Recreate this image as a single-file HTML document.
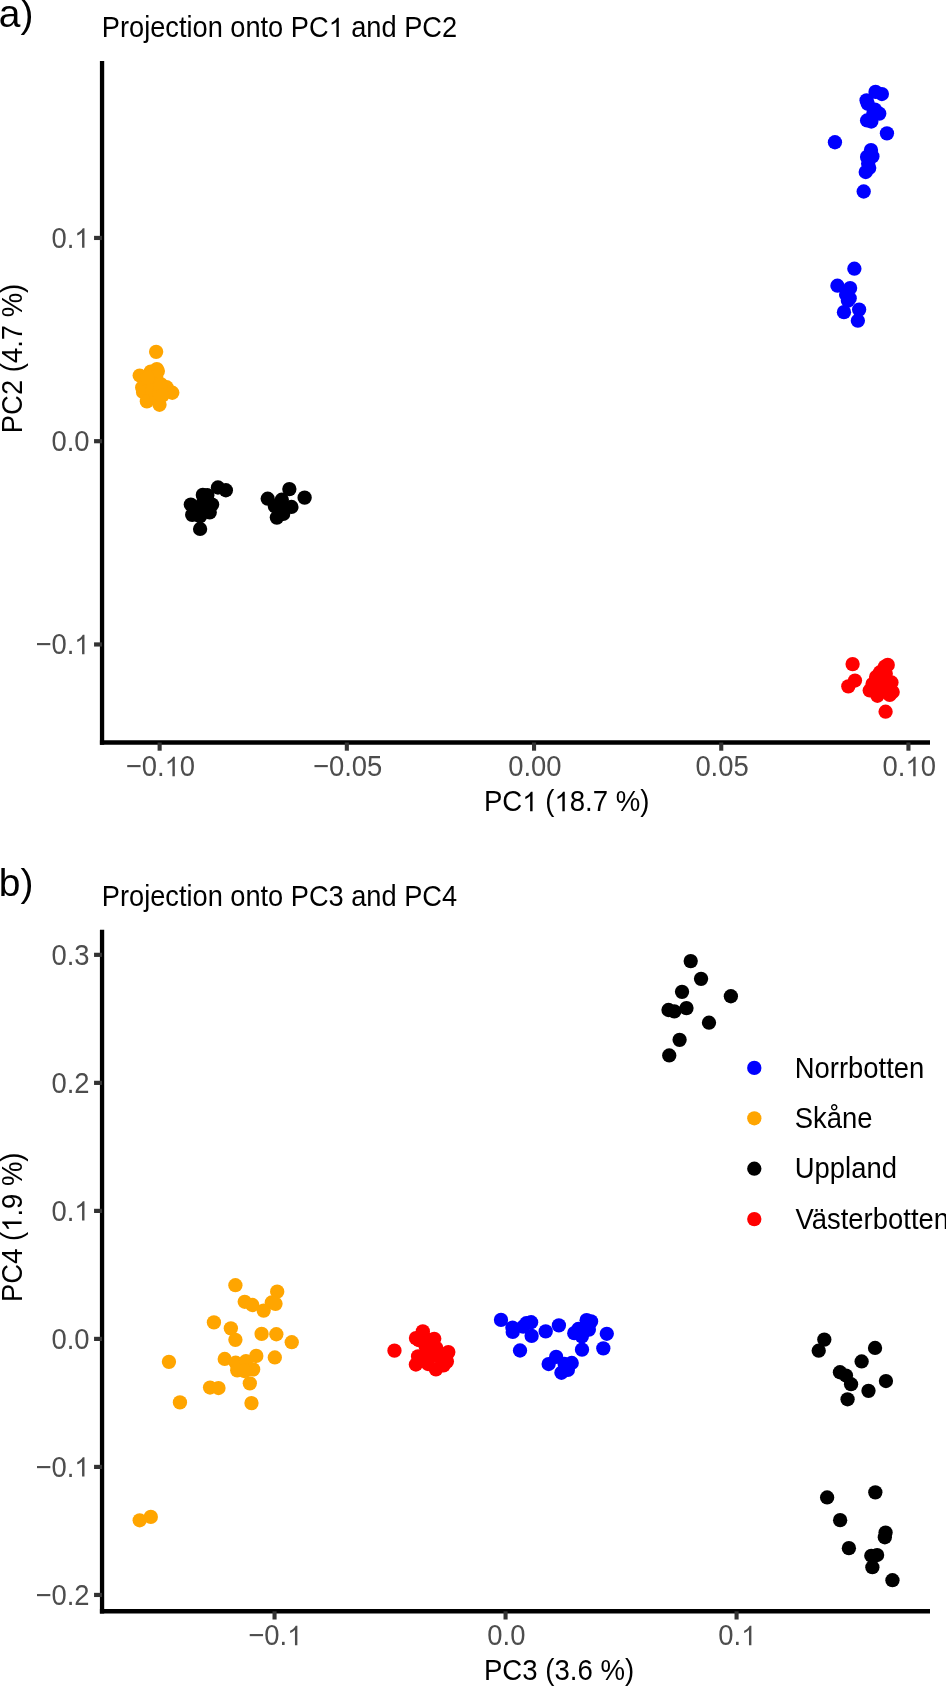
<!DOCTYPE html>
<html><head><meta charset="utf-8"><style>
html,body{margin:0;padding:0;background:#fff;}
svg{display:block;will-change:transform;}
text{font-family:"Liberation Sans",sans-serif;}
</style></head><body>
<svg width="946" height="1686" viewBox="0 0 946 1686">
<rect width="946" height="1686" fill="#fff"/>
<line x1="102.05" y1="61.10" x2="102.05" y2="744.70" stroke="#000" stroke-width="4.3" stroke-linecap="butt"/>
<line x1="99.90" y1="742.50" x2="930.00" y2="742.50" stroke="#000" stroke-width="4.4" stroke-linecap="butt"/>
<line x1="94.05" y1="237.94" x2="102.05" y2="237.94" stroke="#333333" stroke-width="4.2" stroke-linecap="butt"/>
<g transform="translate(89.50,247.64)"><text transform="translate(-38.090,0) scale(0.9288,1)" fill="#4D4D4D" font-size="29.5">0. </text><path transform="translate(-15.239,0) scale(0.013379,-0.013184)" fill="#4D4D4D" d="M763 0L583 0L583 1147C540 1106 483 1064 413 1023C343 982 280 951 223 930L223 1104C322 1150 409 1207 483 1273C557 1339 609 1405 639 1466L763 1466Z"/></g>
<line x1="94.05" y1="441.20" x2="102.05" y2="441.20" stroke="#333333" stroke-width="4.2" stroke-linecap="butt"/>
<text transform="translate(89.50,450.90) scale(0.9288,1)" text-anchor="end" fill="#4D4D4D" font-size="29.5">0.0</text>
<line x1="94.05" y1="644.46" x2="102.05" y2="644.46" stroke="#333333" stroke-width="4.2" stroke-linecap="butt"/>
<g transform="translate(89.50,654.16)"><text transform="translate(-54.091,0) scale(0.9288,1)" fill="#4D4D4D" font-size="29.5">−0. </text><path transform="translate(-15.239,0) scale(0.013379,-0.013184)" fill="#4D4D4D" d="M763 0L583 0L583 1147C540 1106 483 1064 413 1023C343 982 280 951 223 930L223 1104C322 1150 409 1207 483 1273C557 1339 609 1405 639 1466L763 1466Z"/></g>
<line x1="159.64" y1="742.50" x2="159.64" y2="750.70" stroke="#333333" stroke-width="4.1" stroke-linecap="butt"/>
<g transform="translate(160.44,776.20)"><text transform="translate(-34.665,0) scale(0.9288,1)" fill="#4D4D4D" font-size="29.5">−0. 0</text><path transform="translate(4.188,0) scale(0.013379,-0.013184)" fill="#4D4D4D" d="M763 0L583 0L583 1147C540 1106 483 1064 413 1023C343 982 280 951 223 930L223 1104C322 1150 409 1207 483 1273C557 1339 609 1405 639 1466L763 1466Z"/></g>
<line x1="346.84" y1="742.50" x2="346.84" y2="750.70" stroke="#333333" stroke-width="4.1" stroke-linecap="butt"/>
<text transform="translate(347.64,776.20) scale(0.9288,1)" text-anchor="middle" fill="#4D4D4D" font-size="29.5">−0.05</text>
<line x1="534.04" y1="742.50" x2="534.04" y2="750.70" stroke="#333333" stroke-width="4.1" stroke-linecap="butt"/>
<text transform="translate(534.84,776.20) scale(0.9288,1)" text-anchor="middle" fill="#4D4D4D" font-size="29.5">0.00</text>
<line x1="721.24" y1="742.50" x2="721.24" y2="750.70" stroke="#333333" stroke-width="4.1" stroke-linecap="butt"/>
<text transform="translate(722.04,776.20) scale(0.9288,1)" text-anchor="middle" fill="#4D4D4D" font-size="29.5">0.05</text>
<line x1="908.44" y1="742.50" x2="908.44" y2="750.70" stroke="#333333" stroke-width="4.1" stroke-linecap="butt"/>
<g transform="translate(909.24,776.20)"><text transform="translate(-26.664,0) scale(0.9288,1)" fill="#4D4D4D" font-size="29.5">0. 0</text><path transform="translate(-3.813,0) scale(0.013379,-0.013184)" fill="#4D4D4D" d="M763 0L583 0L583 1147C540 1106 483 1064 413 1023C343 982 280 951 223 930L223 1104C322 1150 409 1207 483 1273C557 1339 609 1405 639 1466L763 1466Z"/></g>
<g transform="translate(483.94,811.20)"><text transform="translate(0.000,0) scale(0.9356,1)" fill="#000" font-size="29.5">PC  ( 8.7 %)</text><path transform="translate(38.341,0) scale(0.013477,-0.013184)" fill="#000" d="M763 0L583 0L583 1147C540 1106 483 1064 413 1023C343 982 280 951 223 930L223 1104C322 1150 409 1207 483 1273C557 1339 609 1405 639 1466L763 1466Z"/><path transform="translate(70.550,0) scale(0.013477,-0.013184)" fill="#000" d="M763 0L583 0L583 1147C540 1106 483 1064 413 1023C343 982 280 951 223 930L223 1104C322 1150 409 1207 483 1273C557 1339 609 1405 639 1466L763 1466Z"/></g>
<text transform="translate(21.60,358.50) rotate(-90) scale(0.9498,1)" text-anchor="middle" fill="#000" font-size="28.9">PC2 (4.7 %)</text>
<g transform="translate(101.87,37.00)"><text transform="translate(0.000,0) scale(0.9220,1)" fill="#000" font-size="29.5">Projection onto PC  and PC2</text><path transform="translate(226.791,0) scale(0.013281,-0.013184)" fill="#000" d="M763 0L583 0L583 1147C540 1106 483 1064 413 1023C343 982 280 951 223 930L223 1104C322 1150 409 1207 483 1273C557 1339 609 1405 639 1466L763 1466Z"/></g>
<text transform="translate(-1.30,27.30) scale(0.9873,1)" text-anchor="start" fill="#000" font-size="39.5">a)</text>
<line x1="102.05" y1="929.80" x2="102.05" y2="1613.50" stroke="#000" stroke-width="4.3" stroke-linecap="butt"/>
<line x1="99.90" y1="1611.30" x2="930.00" y2="1611.30" stroke="#000" stroke-width="4.4" stroke-linecap="butt"/>
<line x1="94.05" y1="954.84" x2="102.05" y2="954.84" stroke="#333333" stroke-width="4.2" stroke-linecap="butt"/>
<text transform="translate(89.50,964.54) scale(0.9288,1)" text-anchor="end" fill="#4D4D4D" font-size="29.5">0.3</text>
<line x1="94.05" y1="1082.86" x2="102.05" y2="1082.86" stroke="#333333" stroke-width="4.2" stroke-linecap="butt"/>
<text transform="translate(89.50,1092.56) scale(0.9288,1)" text-anchor="end" fill="#4D4D4D" font-size="29.5">0.2</text>
<line x1="94.05" y1="1210.88" x2="102.05" y2="1210.88" stroke="#333333" stroke-width="4.2" stroke-linecap="butt"/>
<g transform="translate(89.50,1220.58)"><text transform="translate(-38.090,0) scale(0.9288,1)" fill="#4D4D4D" font-size="29.5">0. </text><path transform="translate(-15.239,0) scale(0.013379,-0.013184)" fill="#4D4D4D" d="M763 0L583 0L583 1147C540 1106 483 1064 413 1023C343 982 280 951 223 930L223 1104C322 1150 409 1207 483 1273C557 1339 609 1405 639 1466L763 1466Z"/></g>
<line x1="94.05" y1="1338.90" x2="102.05" y2="1338.90" stroke="#333333" stroke-width="4.2" stroke-linecap="butt"/>
<text transform="translate(89.50,1348.60) scale(0.9288,1)" text-anchor="end" fill="#4D4D4D" font-size="29.5">0.0</text>
<line x1="94.05" y1="1466.92" x2="102.05" y2="1466.92" stroke="#333333" stroke-width="4.2" stroke-linecap="butt"/>
<g transform="translate(89.50,1476.62)"><text transform="translate(-54.091,0) scale(0.9288,1)" fill="#4D4D4D" font-size="29.5">−0. </text><path transform="translate(-15.239,0) scale(0.013379,-0.013184)" fill="#4D4D4D" d="M763 0L583 0L583 1147C540 1106 483 1064 413 1023C343 982 280 951 223 930L223 1104C322 1150 409 1207 483 1273C557 1339 609 1405 639 1466L763 1466Z"/></g>
<line x1="94.05" y1="1594.94" x2="102.05" y2="1594.94" stroke="#333333" stroke-width="4.2" stroke-linecap="butt"/>
<text transform="translate(89.50,1604.64) scale(0.9288,1)" text-anchor="end" fill="#4D4D4D" font-size="29.5">−0.2</text>
<line x1="274.55" y1="1611.30" x2="274.55" y2="1619.50" stroke="#333333" stroke-width="4.1" stroke-linecap="butt"/>
<g transform="translate(275.35,1645.20)"><text transform="translate(-27.045,0) scale(0.9288,1)" fill="#4D4D4D" font-size="29.5">−0. </text><path transform="translate(11.807,0) scale(0.013379,-0.013184)" fill="#4D4D4D" d="M763 0L583 0L583 1147C540 1106 483 1064 413 1023C343 982 280 951 223 930L223 1104C322 1150 409 1207 483 1273C557 1339 609 1405 639 1466L763 1466Z"/></g>
<line x1="505.56" y1="1611.30" x2="505.56" y2="1619.50" stroke="#333333" stroke-width="4.1" stroke-linecap="butt"/>
<text transform="translate(506.36,1645.20) scale(0.9288,1)" text-anchor="middle" fill="#4D4D4D" font-size="29.5">0.0</text>
<line x1="736.57" y1="1611.30" x2="736.57" y2="1619.50" stroke="#333333" stroke-width="4.1" stroke-linecap="butt"/>
<g transform="translate(737.37,1645.20)"><text transform="translate(-19.045,0) scale(0.9288,1)" fill="#4D4D4D" font-size="29.5">0. </text><path transform="translate(3.806,0) scale(0.013379,-0.013184)" fill="#4D4D4D" d="M763 0L583 0L583 1147C540 1106 483 1064 413 1023C343 982 280 951 223 930L223 1104C322 1150 409 1207 483 1273C557 1339 609 1405 639 1466L763 1466Z"/></g>
<text transform="translate(483.94,1680.30) scale(0.9356,1)" text-anchor="start" fill="#000" font-size="29.5">PC3 (3.6 %)</text>
<g transform="translate(21.60,1227.20) rotate(-90)"><text transform="translate(-74.750,0) scale(0.9498,1)" fill="#000" font-size="28.9">PC4 ( .9 %)</text><path transform="translate(-4.584,0) scale(0.013403,-0.013184)" fill="#000" d="M763 0L583 0L583 1147C540 1106 483 1064 413 1023C343 982 280 951 223 930L223 1104C322 1150 409 1207 483 1273C557 1339 609 1405 639 1466L763 1466Z"/></g>
<text transform="translate(101.87,906.20) scale(0.9220,1)" text-anchor="start" fill="#000" font-size="29.5">Projection onto PC3 and PC4</text>
<text transform="translate(-1.30,896.30) scale(0.9873,1)" text-anchor="start" fill="#000" font-size="39.5">b)</text>
<circle cx="875.54" cy="91.91" r="7.15" fill="#0000FF"/>
<circle cx="881.88" cy="94.03" r="7.15" fill="#0000FF"/>
<circle cx="866.55" cy="100.37" r="7.15" fill="#0000FF"/>
<circle cx="867.72" cy="103.75" r="7.15" fill="#0000FF"/>
<circle cx="874.90" cy="109.57" r="7.15" fill="#0000FF"/>
<circle cx="879.24" cy="113.58" r="7.15" fill="#0000FF"/>
<circle cx="873.42" cy="113.05" r="7.15" fill="#0000FF"/>
<circle cx="867.08" cy="120.45" r="7.15" fill="#0000FF"/>
<circle cx="871.31" cy="121.51" r="7.15" fill="#0000FF"/>
<circle cx="886.96" cy="133.35" r="7.15" fill="#0000FF"/>
<circle cx="834.95" cy="142.23" r="7.15" fill="#0000FF"/>
<circle cx="870.99" cy="150.05" r="7.15" fill="#0000FF"/>
<circle cx="867.08" cy="156.92" r="7.15" fill="#0000FF"/>
<circle cx="872.37" cy="156.40" r="7.15" fill="#0000FF"/>
<circle cx="868.14" cy="163.79" r="7.15" fill="#0000FF"/>
<circle cx="869.20" cy="168.02" r="7.15" fill="#0000FF"/>
<circle cx="865.71" cy="172.04" r="7.15" fill="#0000FF"/>
<circle cx="863.70" cy="191.49" r="7.15" fill="#0000FF"/>
<circle cx="854.37" cy="268.71" r="7.15" fill="#0000FF"/>
<circle cx="837.44" cy="285.70" r="7.15" fill="#0000FF"/>
<circle cx="850.12" cy="288.05" r="7.15" fill="#0000FF"/>
<circle cx="846.13" cy="294.71" r="7.15" fill="#0000FF"/>
<circle cx="849.68" cy="298.19" r="7.15" fill="#0000FF"/>
<circle cx="843.97" cy="312.14" r="7.15" fill="#0000FF"/>
<circle cx="859.12" cy="309.61" r="7.15" fill="#0000FF"/>
<circle cx="857.86" cy="320.70" r="7.15" fill="#0000FF"/>
<circle cx="847.90" cy="300.73" r="7.15" fill="#0000FF"/>
<circle cx="852.61" cy="664.12" r="7.15" fill="#FF0000"/>
<circle cx="854.98" cy="680.53" r="7.15" fill="#FF0000"/>
<circle cx="848.32" cy="686.32" r="7.15" fill="#FF0000"/>
<circle cx="885.59" cy="711.70" r="7.15" fill="#FF0000"/>
<circle cx="887.74" cy="664.91" r="7.15" fill="#FF0000"/>
<circle cx="884.96" cy="666.65" r="7.15" fill="#FF0000"/>
<circle cx="880.04" cy="672.20" r="7.15" fill="#FF0000"/>
<circle cx="876.08" cy="676.96" r="7.15" fill="#FF0000"/>
<circle cx="872.51" cy="684.10" r="7.15" fill="#FF0000"/>
<circle cx="869.73" cy="690.44" r="7.15" fill="#FF0000"/>
<circle cx="877.43" cy="695.76" r="7.15" fill="#FF0000"/>
<circle cx="889.72" cy="694.96" r="7.15" fill="#FF0000"/>
<circle cx="892.65" cy="692.03" r="7.15" fill="#FF0000"/>
<circle cx="891.46" cy="682.51" r="7.15" fill="#FF0000"/>
<circle cx="885.75" cy="673.79" r="7.15" fill="#FF0000"/>
<circle cx="882.58" cy="685.69" r="7.15" fill="#FF0000"/>
<circle cx="879.41" cy="685.69" r="7.15" fill="#FF0000"/>
<circle cx="884.17" cy="680.13" r="7.15" fill="#FF0000"/>
<circle cx="886.55" cy="688.07" r="7.15" fill="#FF0000"/>
<circle cx="156.13" cy="351.84" r="7.15" fill="#FFA500"/>
<circle cx="156.82" cy="369.16" r="7.15" fill="#FFA500"/>
<circle cx="150.77" cy="371.56" r="7.15" fill="#FFA500"/>
<circle cx="139.71" cy="375.55" r="7.15" fill="#FFA500"/>
<circle cx="157.85" cy="371.08" r="7.15" fill="#FFA500"/>
<circle cx="156.13" cy="376.58" r="7.15" fill="#FFA500"/>
<circle cx="142.18" cy="387.58" r="7.15" fill="#FFA500"/>
<circle cx="143.01" cy="392.04" r="7.15" fill="#FFA500"/>
<circle cx="166.58" cy="387.23" r="7.15" fill="#FFA500"/>
<circle cx="172.29" cy="392.73" r="7.15" fill="#FFA500"/>
<circle cx="146.86" cy="401.39" r="7.15" fill="#FFA500"/>
<circle cx="159.50" cy="404.76" r="7.15" fill="#FFA500"/>
<circle cx="151.12" cy="383.11" r="7.15" fill="#FFA500"/>
<circle cx="152.49" cy="389.98" r="7.15" fill="#FFA500"/>
<circle cx="155.93" cy="395.48" r="7.15" fill="#FFA500"/>
<circle cx="159.36" cy="393.42" r="7.15" fill="#FFA500"/>
<circle cx="147.68" cy="377.61" r="7.15" fill="#FFA500"/>
<circle cx="160.74" cy="384.14" r="7.15" fill="#FFA500"/>
<circle cx="162.46" cy="395.48" r="7.15" fill="#FFA500"/>
<circle cx="217.96" cy="487.51" r="7.15" fill="#000000"/>
<circle cx="225.86" cy="490.26" r="7.15" fill="#000000"/>
<circle cx="202.84" cy="494.93" r="7.15" fill="#000000"/>
<circle cx="207.30" cy="495.27" r="7.15" fill="#000000"/>
<circle cx="197.68" cy="508.68" r="7.15" fill="#000000"/>
<circle cx="190.81" cy="504.55" r="7.15" fill="#000000"/>
<circle cx="212.11" cy="504.55" r="7.15" fill="#000000"/>
<circle cx="192.18" cy="514.86" r="7.15" fill="#000000"/>
<circle cx="209.71" cy="512.46" r="7.15" fill="#000000"/>
<circle cx="200.09" cy="528.95" r="7.15" fill="#000000"/>
<circle cx="200.09" cy="516.24" r="7.15" fill="#000000"/>
<circle cx="202.49" cy="503.87" r="7.15" fill="#000000"/>
<circle cx="289.36" cy="489.09" r="7.15" fill="#000000"/>
<circle cx="304.62" cy="497.68" r="7.15" fill="#000000"/>
<circle cx="267.71" cy="498.71" r="7.15" fill="#000000"/>
<circle cx="281.80" cy="499.74" r="7.15" fill="#000000"/>
<circle cx="291.43" cy="506.96" r="7.15" fill="#000000"/>
<circle cx="274.93" cy="506.27" r="7.15" fill="#000000"/>
<circle cx="276.86" cy="517.61" r="7.15" fill="#000000"/>
<circle cx="283.18" cy="513.90" r="7.15" fill="#000000"/>
<circle cx="280.43" cy="505.93" r="7.15" fill="#000000"/>
<circle cx="690.70" cy="961.07" r="7.15" fill="#000000"/>
<circle cx="701.06" cy="978.83" r="7.15" fill="#000000"/>
<circle cx="682.03" cy="991.83" r="7.15" fill="#000000"/>
<circle cx="730.87" cy="996.27" r="7.15" fill="#000000"/>
<circle cx="668.50" cy="1010.01" r="7.15" fill="#000000"/>
<circle cx="674.31" cy="1011.38" r="7.15" fill="#000000"/>
<circle cx="686.47" cy="1008.11" r="7.15" fill="#000000"/>
<circle cx="708.99" cy="1022.70" r="7.15" fill="#000000"/>
<circle cx="679.60" cy="1039.82" r="7.15" fill="#000000"/>
<circle cx="669.24" cy="1055.47" r="7.15" fill="#000000"/>
<circle cx="824.31" cy="1339.59" r="7.15" fill="#000000"/>
<circle cx="818.71" cy="1350.69" r="7.15" fill="#000000"/>
<circle cx="875.05" cy="1347.94" r="7.15" fill="#000000"/>
<circle cx="861.63" cy="1361.47" r="7.15" fill="#000000"/>
<circle cx="839.96" cy="1372.25" r="7.15" fill="#000000"/>
<circle cx="845.98" cy="1375.53" r="7.15" fill="#000000"/>
<circle cx="851.06" cy="1384.20" r="7.15" fill="#000000"/>
<circle cx="885.94" cy="1381.03" r="7.15" fill="#000000"/>
<circle cx="868.50" cy="1390.86" r="7.15" fill="#000000"/>
<circle cx="847.57" cy="1399.31" r="7.15" fill="#000000"/>
<circle cx="827.12" cy="1497.44" r="7.15" fill="#000000"/>
<circle cx="875.33" cy="1492.37" r="7.15" fill="#000000"/>
<circle cx="840.13" cy="1520.17" r="7.15" fill="#000000"/>
<circle cx="885.58" cy="1532.54" r="7.15" fill="#000000"/>
<circle cx="884.84" cy="1537.29" r="7.15" fill="#000000"/>
<circle cx="848.90" cy="1548.18" r="7.15" fill="#000000"/>
<circle cx="871.31" cy="1555.79" r="7.15" fill="#000000"/>
<circle cx="877.12" cy="1555.05" r="7.15" fill="#000000"/>
<circle cx="872.37" cy="1567.21" r="7.15" fill="#000000"/>
<circle cx="892.45" cy="1580.21" r="7.15" fill="#000000"/>
<circle cx="235.41" cy="1285.22" r="7.15" fill="#FFA500"/>
<circle cx="277.19" cy="1291.65" r="7.15" fill="#FFA500"/>
<circle cx="244.71" cy="1301.80" r="7.15" fill="#FFA500"/>
<circle cx="252.33" cy="1305.01" r="7.15" fill="#FFA500"/>
<circle cx="263.66" cy="1310.59" r="7.15" fill="#FFA500"/>
<circle cx="271.78" cy="1302.47" r="7.15" fill="#FFA500"/>
<circle cx="275.50" cy="1303.83" r="7.15" fill="#FFA500"/>
<circle cx="213.93" cy="1322.43" r="7.15" fill="#FFA500"/>
<circle cx="230.85" cy="1328.35" r="7.15" fill="#FFA500"/>
<circle cx="235.41" cy="1339.85" r="7.15" fill="#FFA500"/>
<circle cx="261.63" cy="1333.93" r="7.15" fill="#FFA500"/>
<circle cx="276.34" cy="1334.27" r="7.15" fill="#FFA500"/>
<circle cx="291.73" cy="1342.22" r="7.15" fill="#FFA500"/>
<circle cx="168.94" cy="1361.84" r="7.15" fill="#FFA500"/>
<circle cx="274.82" cy="1357.44" r="7.15" fill="#FFA500"/>
<circle cx="210.04" cy="1387.55" r="7.15" fill="#FFA500"/>
<circle cx="218.50" cy="1388.05" r="7.15" fill="#FFA500"/>
<circle cx="179.94" cy="1402.43" r="7.15" fill="#FFA500"/>
<circle cx="251.48" cy="1403.11" r="7.15" fill="#FFA500"/>
<circle cx="224.71" cy="1358.95" r="7.15" fill="#FFA500"/>
<circle cx="235.68" cy="1362.76" r="7.15" fill="#FFA500"/>
<circle cx="246.02" cy="1361.17" r="7.15" fill="#FFA500"/>
<circle cx="256.29" cy="1355.91" r="7.15" fill="#FFA500"/>
<circle cx="237.27" cy="1370.36" r="7.15" fill="#FFA500"/>
<circle cx="253.12" cy="1369.41" r="7.15" fill="#FFA500"/>
<circle cx="245.51" cy="1370.36" r="7.15" fill="#FFA500"/>
<circle cx="249.82" cy="1383.36" r="7.15" fill="#FFA500"/>
<circle cx="244.24" cy="1371.00" r="7.15" fill="#FFA500"/>
<circle cx="139.70" cy="1520.30" r="7.15" fill="#FFA500"/>
<circle cx="150.80" cy="1516.90" r="7.15" fill="#FFA500"/>
<circle cx="394.46" cy="1350.68" r="7.15" fill="#FF0000"/>
<circle cx="422.82" cy="1331.37" r="7.15" fill="#FF0000"/>
<circle cx="415.97" cy="1338.12" r="7.15" fill="#FF0000"/>
<circle cx="434.23" cy="1338.79" r="7.15" fill="#FF0000"/>
<circle cx="419.01" cy="1340.21" r="7.15" fill="#FF0000"/>
<circle cx="436.14" cy="1347.83" r="7.15" fill="#FF0000"/>
<circle cx="448.32" cy="1352.11" r="7.15" fill="#FF0000"/>
<circle cx="418.06" cy="1356.39" r="7.15" fill="#FF0000"/>
<circle cx="415.87" cy="1364.48" r="7.15" fill="#FF0000"/>
<circle cx="428.05" cy="1364.00" r="7.15" fill="#FF0000"/>
<circle cx="435.95" cy="1369.42" r="7.15" fill="#FF0000"/>
<circle cx="443.56" cy="1365.43" r="7.15" fill="#FF0000"/>
<circle cx="446.89" cy="1361.62" r="7.15" fill="#FF0000"/>
<circle cx="427.57" cy="1353.06" r="7.15" fill="#FF0000"/>
<circle cx="433.28" cy="1354.96" r="7.15" fill="#FF0000"/>
<circle cx="438.99" cy="1356.86" r="7.15" fill="#FF0000"/>
<circle cx="425.67" cy="1346.40" r="7.15" fill="#FF0000"/>
<circle cx="426.62" cy="1338.79" r="7.15" fill="#FF0000"/>
<circle cx="501.00" cy="1319.92" r="7.15" fill="#0000FF"/>
<circle cx="512.41" cy="1327.66" r="7.15" fill="#0000FF"/>
<circle cx="512.73" cy="1331.97" r="7.15" fill="#0000FF"/>
<circle cx="526.36" cy="1323.22" r="7.15" fill="#0000FF"/>
<circle cx="531.12" cy="1322.27" r="7.15" fill="#0000FF"/>
<circle cx="523.19" cy="1326.71" r="7.15" fill="#0000FF"/>
<circle cx="531.63" cy="1335.90" r="7.15" fill="#0000FF"/>
<circle cx="520.02" cy="1350.49" r="7.15" fill="#0000FF"/>
<circle cx="545.70" cy="1331.40" r="7.15" fill="#0000FF"/>
<circle cx="558.90" cy="1325.40" r="7.15" fill="#0000FF"/>
<circle cx="586.63" cy="1320.15" r="7.15" fill="#0000FF"/>
<circle cx="591.07" cy="1321.41" r="7.15" fill="#0000FF"/>
<circle cx="574.27" cy="1333.15" r="7.15" fill="#0000FF"/>
<circle cx="588.85" cy="1329.66" r="7.15" fill="#0000FF"/>
<circle cx="581.88" cy="1336.32" r="7.15" fill="#0000FF"/>
<circle cx="582.00" cy="1349.63" r="7.15" fill="#0000FF"/>
<circle cx="606.80" cy="1333.78" r="7.15" fill="#0000FF"/>
<circle cx="603.31" cy="1348.36" r="7.15" fill="#0000FF"/>
<circle cx="578.39" cy="1329.02" r="7.15" fill="#0000FF"/>
<circle cx="556.14" cy="1356.91" r="7.15" fill="#0000FF"/>
<circle cx="548.64" cy="1364.05" r="7.15" fill="#0000FF"/>
<circle cx="571.73" cy="1362.99" r="7.15" fill="#0000FF"/>
<circle cx="561.43" cy="1372.77" r="7.15" fill="#0000FF"/>
<circle cx="567.88" cy="1369.92" r="7.15" fill="#0000FF"/>
<circle cx="564.60" cy="1363.78" r="7.15" fill="#0000FF"/>
<circle cx="754.3" cy="1067.90" r="7.15" fill="#0000FF"/>
<text transform="translate(794.70,1077.50) scale(0.9305,1)" text-anchor="start" fill="#000" font-size="29.5">Norrbotten</text>
<circle cx="754.3" cy="1118.30" r="7.15" fill="#FFA500"/>
<text transform="translate(794.70,1127.90) scale(0.9305,1)" text-anchor="start" fill="#000" font-size="29.5">Skåne</text>
<circle cx="754.3" cy="1168.70" r="7.15" fill="#000000"/>
<text transform="translate(794.70,1178.30) scale(0.9305,1)" text-anchor="start" fill="#000" font-size="29.5">Uppland</text>
<circle cx="754.3" cy="1219.10" r="7.15" fill="#FF0000"/>
<text transform="translate(795.50,1228.70) scale(0.9305,1)" fill="#000" font-size="29.5">V<tspan dx="-2.2">ästerbotten</tspan></text>
</svg>
</body></html>
